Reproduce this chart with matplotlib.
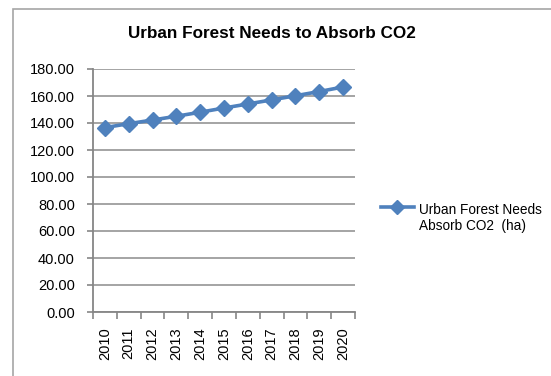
import matplotlib
matplotlib.use("Agg")
import matplotlib.pyplot as plt
from matplotlib.patches import Rectangle
from matplotlib.lines import Line2D

years = ["2010", "2011", "2012", "2013", "2014", "2015", "2016", "2017", "2018", "2019", "2020"]
values = [136.6, 139.5, 142.2, 145.0, 148.0, 151.1, 154.1, 157.1, 160.2, 163.3, 166.7]
yticks = [0, 20, 40, 60, 80, 100, 120, 140, 160, 180]
title = "Urban Forest Needs to Absorb CO2"
series_label = "Urban Forest Needs\nAbsorb CO2  (ha)"

plt.rcParams['font.family'] = ['Liberation Sans', 'DejaVu Sans']

W, H = 551, 376
fig = plt.figure(figsize=(W / 100, H / 100), dpi=100)
fig.patch.set_facecolor('white')

# outer chart border (right/bottom cut off)
fig.patches.append(Rectangle((13 / W, -0.5), 2.0, 1 - 9 / H + 0.5, transform=fig.transFigure,
                             fill=False, edgecolor='#A6A6A6', linewidth=1.2))

left, right, top, bottom = 93, 355, 69, 312
ax = fig.add_axes([left / W, 1 - bottom / H, (right - left) / W, (bottom - top) / H])

color = '#4F81BD'
x = list(range(len(years)))
ax.plot(x, values, color=color, linewidth=2.6, marker='D', markersize=8,
        markerfacecolor=color, markeredgecolor=color, zorder=3, clip_on=False)

ax.set_xlim(-0.5, len(years) - 0.5)
ax.set_ylim(0, 180)
ax.set_yticks(yticks)
ax.set_yticklabels([f"{v:.2f}" for v in yticks], fontsize=10.5, color='black')
ax.set_xticks(x)
ax.set_xticklabels(years, rotation=90, fontsize=10.5, color='black')
ax.tick_params(axis='x', length=0, pad=11)
ax.set_xticks([i - 0.5 for i in range(len(years) + 1)], minor=True)
ax.tick_params(axis='x', which='minor', length=5, color='#868686', width=1.2, direction='out')
ax.tick_params(axis='y', length=4, color='#868686', width=1.2, direction='out', pad=9)

ax.grid(axis='y', color='#8C8C8C', linewidth=1.1)
ax.set_axisbelow(True)
for s in ['top', 'right']:
    ax.spines[s].set_visible(False)
for s in ['left', 'bottom']:
    ax.spines[s].set_color('#868686')
    ax.spines[s].set_linewidth(1.3)

fig.text(272 / W, 1 - 33 / H, title, ha='center', va='center', fontsize=12.3,
         fontweight='bold')

# legend
handle = Line2D([], [], color=color, linewidth=2.6, marker='D', markersize=7,
                markerfacecolor=color, markeredgecolor=color)
leg = fig.legend([handle], [series_label], loc='center left',
                 bbox_to_anchor=(377 / W, 1 - 206 / H), frameon=False,
                 fontsize=9.8, handlelength=2.4, handletextpad=0.35,
                 borderaxespad=0, borderpad=0.3)
for t in leg.get_texts():
    t.set_va('center')

fig.savefig('out.png', dpi=100)
